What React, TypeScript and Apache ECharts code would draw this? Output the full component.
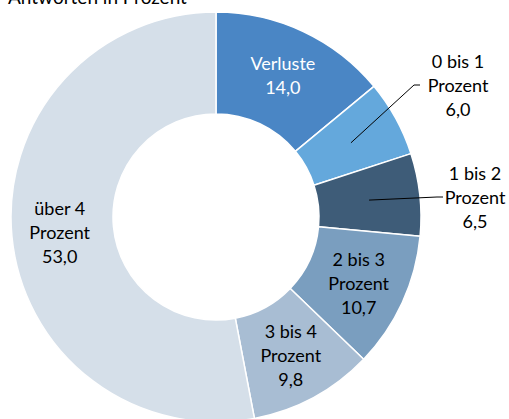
import React, { useEffect, useRef } from "react";
import * as echarts from "echarts";

const titleText = "Antworten in Prozent";
const categories = ["Verluste", "0 bis 1\nProzent", "1 bis 2\nProzent", "2 bis 3\nProzent", "3 bis 4\nProzent", "über 4\nProzent"];
const values = [14.0, 6.0, 6.5, 10.7, 9.8, 53.0];
const colors = ["#4a86c5", "#64a8dc", "#3e5c78", "#7a9ebf", "#a8bdd3", "#d5dfe9"];
const labelColors = ["#ffffff", "#000000", "#000000", "#000000", "#000000", "#000000"];
const outsideIdx = [1, 2];

const CX = 216;
const CY = 217;
const R_IN = 103;
const R_OUT = 205;

export default function App() {
  const ref = useRef<HTMLDivElement>(null);
  useEffect(() => {
    document.body.style.margin = "0";
    const chart = echarts.init(ref.current!, null, { renderer: "svg" });
    const font = "Lato, 'Open Sans', sans-serif";
    const outsidePos: Record<number, { lx: number; ly: number; ex: number }> = {
      1: { lx: 458, ly: 85, ex: 414 },
      2: { lx: 475, ly: 197, ex: 437 },
    };
    const fmt = (p: any) => p.name + "\n" + p.value.toFixed(1).replace(".", ",");
    const labelBase = {
      fontSize: 18,
      lineHeight: 24,
      fontFamily: font,
      align: "center",
      formatter: fmt,
    };
    chart.setOption({
      animation: false,
      graphic: [
        {
          type: "text",
          left: 8,
          top: -13,
          style: { text: titleText, fontSize: 19, fontFamily: font, fill: "#000" },
        },
      ],
      series: [
        {
          type: "pie",
          z: 2,
          center: [CX, CY],
          radius: [R_IN, R_OUT],
          startAngle: 90,
          clockwise: true,
          avoidLabelOverlap: false,
          itemStyle: { borderColor: "#ffffff", borderWidth: 1.5 },
          data: categories.map((name, i) => ({
            name,
            value: values[i],
            itemStyle: { color: colors[i] },
            label: {
              ...labelBase,
              show: !outsideIdx.includes(i),
              position: "inside",
              color: labelColors[i],
            },
            labelLine: { show: false },
          })),
        },
        {
          type: "pie",
          z: 5,
          silent: true,
          center: [CX, CY],
          radius: [R_IN, R_OUT],
          startAngle: 90,
          clockwise: true,
          avoidLabelOverlap: false,
          itemStyle: { color: "rgba(0,0,0,0)", borderWidth: 0 },
          data: categories.map((name, i) => {
            const outside = outsideIdx.includes(i);
            return {
              name,
              value: values[i],
              label: {
                ...labelBase,
                show: outside,
                position: "outside",
                color: labelColors[i],
              },
              labelLine: {
                show: outside,
                lineStyle: { color: "#000", width: 1 },
              },
            };
          }),
          labelLayout: (params: any) => {
            const pos = outsidePos[params.dataIndex];
            if (!pos || !params.labelLinePoints) return {};
            const p0 = params.labelLinePoints[0];
            const dx = p0[0] - CX;
            const dy = p0[1] - CY;
            const d = Math.sqrt(dx * dx + dy * dy);
            const rm = (R_IN + R_OUT) / 2;
            const sx = CX + (dx / d) * rm;
            const sy = CY + (dy / d) * rm;
            return {
              x: pos.lx,
              y: pos.ly,
              align: "center",
              verticalAlign: "middle",
              labelLinePoints: [
                [sx, sy],
                [pos.ex, pos.ly],
                [pos.ex + 6, pos.ly],
              ],
            };
          },
        },
      ],
    });
    return () => chart.dispose();
  }, []);
  return <div ref={ref} style={{ width: 509, height: 419 }} />;
}
